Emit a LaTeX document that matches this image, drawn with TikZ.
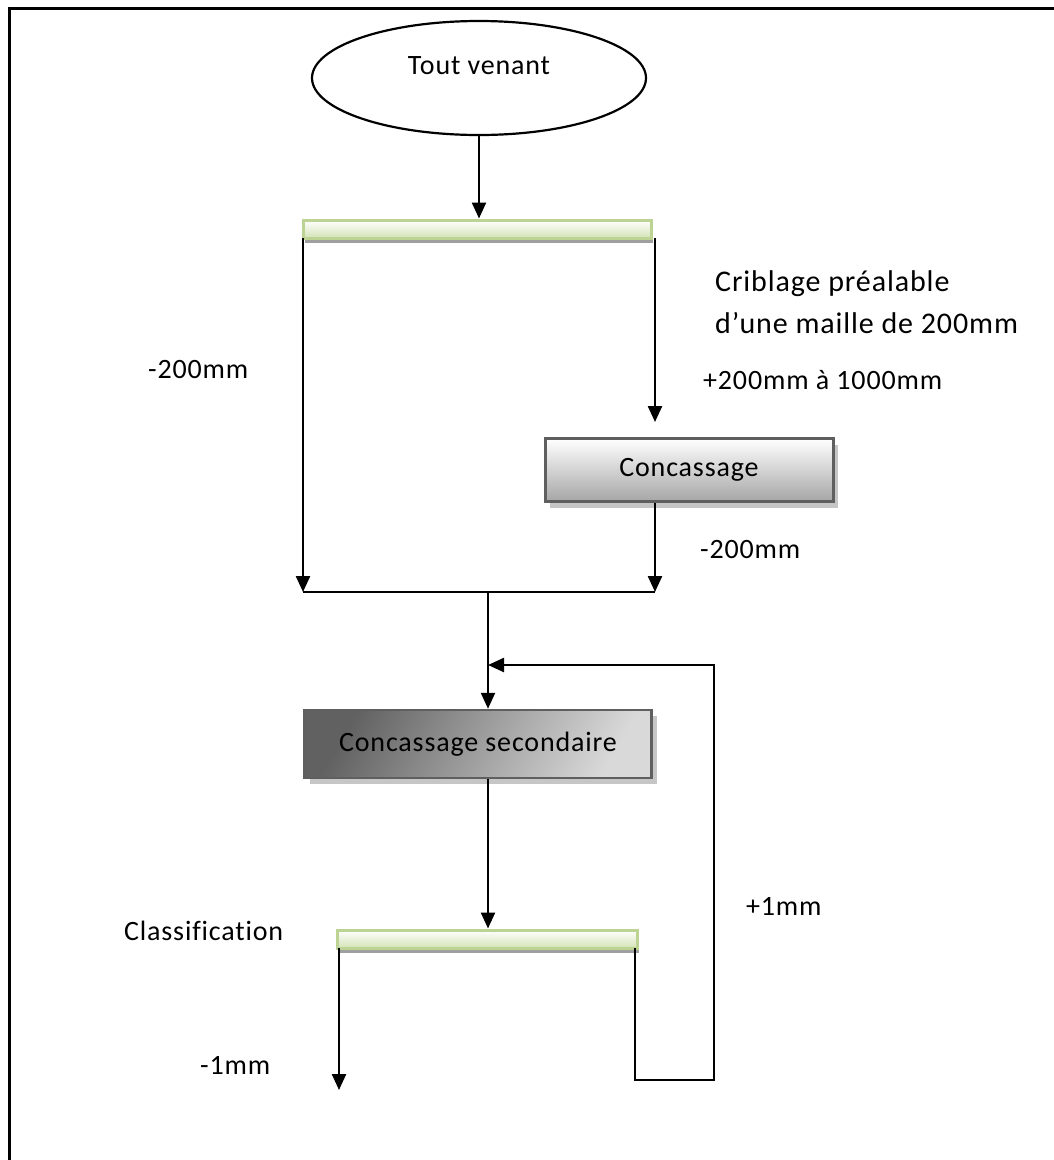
\documentclass[tikz,border=0pt]{standalone}
\usepackage{fontspec}
\setmainfont{Carlito}[LetterSpace=3, Ligatures=NoCommon]
\usetikzlibrary{arrows.meta,shapes.geometric,shadows}
\definecolor{scrgreen}{HTML}{BDD393}
\definecolor{scrfill}{HTML}{D4E3B5}
\definecolor{boxline}{HTML}{5F5F5F}
\tikzset{
  lbl/.style={anchor=base west, inner sep=0pt, font=\fontsize{28}{32}\selectfont},
  biglbl/.style={lbl, font=\fontsize{30}{34}\selectfont},
  ln/.style={line width=2.4pt, black},
  arr/.style={ln, -{Triangle[length=16pt, width=14pt]}},
  screen/.style={rectangle, draw=scrgreen, line width=3pt, top color=white, bottom color=scrfill,
     inner sep=0pt, drop shadow={shadow xshift=2pt, shadow yshift=-5pt, fill=gray!75, opacity=1}},
  procA/.style={rectangle, draw=boxline, line width=3pt, top color=white, bottom color=black!35,
     inner sep=0pt, font=\fontsize{28}{32}\selectfont,
     drop shadow={shadow xshift=5pt, shadow yshift=-6pt, fill=gray!45, opacity=1}},
  procB/.style={rectangle, draw=boxline, line width=2.5pt, shading=axis, left color=black!62, right color=black!15, shading angle=60,
     inner sep=0pt, font=\fontsize{28}{32}\selectfont,
     drop shadow={shadow xshift=5pt, shadow yshift=-6pt, fill=gray!45, opacity=1}},
  ellbox/.style={ellipse, draw, line width=2.2pt, fill=white, minimum width=334pt, minimum height=114pt,
     inner sep=0pt, font=\fontsize{28}{32}\selectfont, text depth=24pt},
}
\begin{document}
\begin{tikzpicture}[x=1pt, y=-1pt]
\useasboundingbox (0,0) rectangle (1054,1160);
% outer frame
\draw[line width=3pt] (9,1160) -- (9,8) -- (1054,8);

\node[ellbox] (tv) at (479,78) {Tout venant};
\node[screen, minimum width=348pt, minimum height=18pt] (s1) at (477,229) {};
\node[procA, minimum width=288pt, minimum height=63pt] (conc) at (689,470) {Concassage};
\node[procB, minimum width=347pt, minimum height=68pt] (cs) at (478,744) {Concassage secondaire};
\node[screen, minimum width=300pt, minimum height=18pt] (s2) at (487,939) {};

\coordinate (s1r) at (655,238);
\coordinate (s1l) at (303,238);
\coordinate (a1) at (655,422);
\coordinate (jl) at (303,592);
\coordinate (jr) at (655,592);
\coordinate (jm) at (488,592);
\coordinate (fb) at (488,665);
\coordinate (s2l) at (339,948);
\coordinate (s2r) at (635,948);
\coordinate (out) at (339,1090);

\draw[arr] (tv.south) -- (tv.south |- s1.north);
\draw[arr] (s1r) -- (a1);
\draw[arr] (s1l) -- (jl);
\draw[arr] (conc.south -| jr) -- (jr);
\draw[ln] (jl) -- (jr);
\draw[arr] (jm) -- (jm |- cs.north);
\draw[arr] (cs.south -| jm) -- (jm |- s2.north);
\draw[arr] (s2l) -- (out);
\draw[arr] (s2r) -- (635,1080) -- (714,1080) -- (714,665) -- (fb);

\node[biglbl] (l1) at (715,291) {Criblage préalable};
\node[biglbl] (l2) at (715,333) {d’une maille de 200mm};
\node[lbl] (l3) at (148,378) {-200mm};
\node[lbl] (l4) at (703,389) {+200mm à 1000mm};
\node[lbl] (l5) at (700,558) {-200mm};
\node[lbl] (l6) at (124,940) {Classification};
\node[lbl] (l7) at (746,915) {+1mm};
\node[lbl] (l8) at (200,1074) {-1mm};
\end{tikzpicture}
\end{document}
